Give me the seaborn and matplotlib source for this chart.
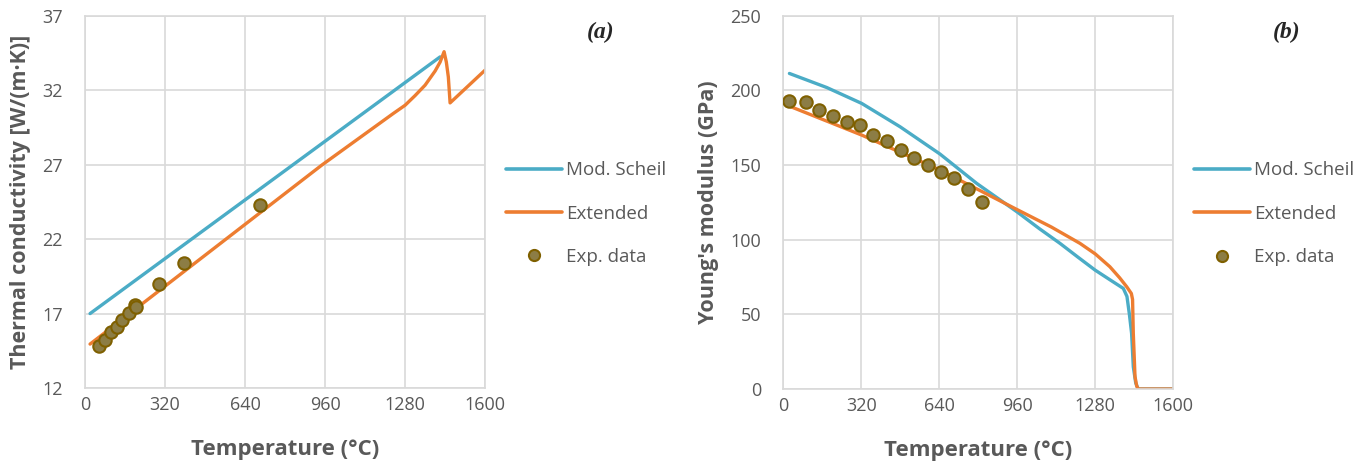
import numpy as np
import pandas as pd
import seaborn as sns
import matplotlib.pyplot as plt
from matplotlib.lines import Line2D

# (a) thermal conductivity
scheil_k_temp = [20, 1420]
scheil_k_val = [17.0, 34.25]
ext_k_temp = [20, 947, 1233, 1280, 1320, 1360, 1400, 1420, 1436, 1445, 1453, 1460,
              1600]
ext_k_val = [14.95, 26.98, 30.45, 31.0, 31.65, 32.35, 33.3, 33.9, 34.6, 33.9, 32.9,
             31.16, 33.36]
exp_k_temp = [57, 81, 104, 127, 148, 176, 200, 203, 297, 397, 700]
exp_k_val = [14.85, 15.21, 15.73, 16.13, 16.58, 17.03, 17.58, 17.43, 18.97, 20.42, 24.32]

# (b) Young's modulus
scheil_e_temp = [25, 178, 322, 479, 643, 793, 958, 1050, 1135, 1210, 1279, 1340,
                 1395, 1410, 1420, 1429, 1436, 1446, 1456, 1600]
scheil_e_val = [211.4, 202.0, 191.3, 175.7, 157.4, 137.8, 118.8, 107.5, 97.6, 88.2,
                79.7, 73.2, 67.4, 62.0, 50.0, 37.3, 14.9, 4.0, 0, 0]
ext_e_temp = [25, 322, 643, 958, 1100, 1217, 1280, 1340, 1380, 1409, 1428, 1433,
              1436, 1443, 1450, 1456, 1600]
ext_e_val = [189.5, 170.1, 146.7, 120.3, 108.5, 97.6, 90.5, 81.9, 74.5, 68.5, 64.0,
             60.0, 37.3, 8.3, 2.0, 0, 0]
exp_e_temp = [25, 93, 148, 203, 260, 315, 369, 427, 483, 536, 592, 647, 702, 759, 814]
exp_e_val = [192.9, 192.0, 186.9, 182.9, 178.8, 176.8, 170.1, 166.1, 160.1, 154.9,
             150.0, 145.1, 141.1, 134.0, 125.0]

x_ticks = [0, 320, 640, 960, 1280, 1600]

BLUE = '#4bacc6'
ORANGE = '#ed7d31'
FACE = '#8c7d45'
EDGE = '#7f6000'
GRID = '#d9d9d9'
TXT = '#595959'

sns.set_style('white')
plt.rcParams['font.family'] = ['Open Sans', 'DejaVu Sans']


def panel(ax, st, sv, et, ev, xt, xv, yticks, ylabel, tag):
    sns.lineplot(x=st, y=sv, ax=ax, color=BLUE, lw=2.4, sort=False,
                 estimator=None)
    sns.lineplot(x=et, y=ev, ax=ax, color=ORANGE, lw=2.4, sort=False,
                 estimator=None)
    sns.scatterplot(x=xt, y=xv, ax=ax, color=FACE, edgecolor=EDGE,
                    linewidth=1.5, s=80, zorder=5)
    ax.set_xlim(0, 1600)
    ax.set_ylim(yticks[0], yticks[-1])
    ax.set_xticks(x_ticks)
    ax.set_yticks(yticks)
    ax.grid(True, color=GRID, lw=1.2)
    for s in ax.spines.values():
        s.set_color(GRID)
        s.set_linewidth(1.2)
    ax.tick_params(axis='both', length=0, labelsize=13, colors=TXT)
    ax.tick_params(axis='y', pad=16)
    ax.tick_params(axis='x', pad=6)
    ax.set_xlabel('Temperature (°C)', fontsize=16, fontweight='bold',
                  color=TXT, labelpad=18)
    ax.set_ylabel(ylabel, fontsize=15.5, fontweight='bold', color=TXT,
                  labelpad=8)
    handles = [Line2D([], [], color=BLUE, lw=2.6),
               Line2D([], [], color=ORANGE, lw=2.6),
               Line2D([], [], ls='', marker='o', ms=8, mfc=FACE, mec=EDGE,
                      mew=1.5)]
    leg = ax.legend(handles, ['Mod. Scheil', 'Extended', 'Exp. data'],
                    loc='upper left', bbox_to_anchor=(1.01, 0.655),
                    frameon=False, fontsize=13.5, handlelength=3.0,
                    handletextpad=0.2, labelspacing=1.35)
    for t in leg.get_texts():
        t.set_color(TXT)
    ax.text(1.29, 0.955, tag, transform=ax.transAxes, fontsize=17,
            fontweight='bold', fontstyle='italic', family='Liberation Serif',
            ha='center', va='center')


fig = plt.figure(figsize=(13.63, 4.70), dpi=100)
ax1 = fig.add_axes([0.0624, 0.1745, 0.2935, 0.7915])
ax2 = fig.add_axes([0.5747, 0.1723, 0.2861, 0.794])

panel(ax1, scheil_k_temp, scheil_k_val, ext_k_temp, ext_k_val,
      exp_k_temp, exp_k_val, [12, 17, 22, 27, 32, 37],
      'Thermal conductivity [W/(m·K)]', '(a)')
panel(ax2, scheil_e_temp, scheil_e_val, ext_e_temp, ext_e_val,
      exp_e_temp, exp_e_val, [0, 50, 100, 150, 200, 250],
      "Young's modulus (GPa)", '(b)')

fig.savefig('out.png', dpi=100)
